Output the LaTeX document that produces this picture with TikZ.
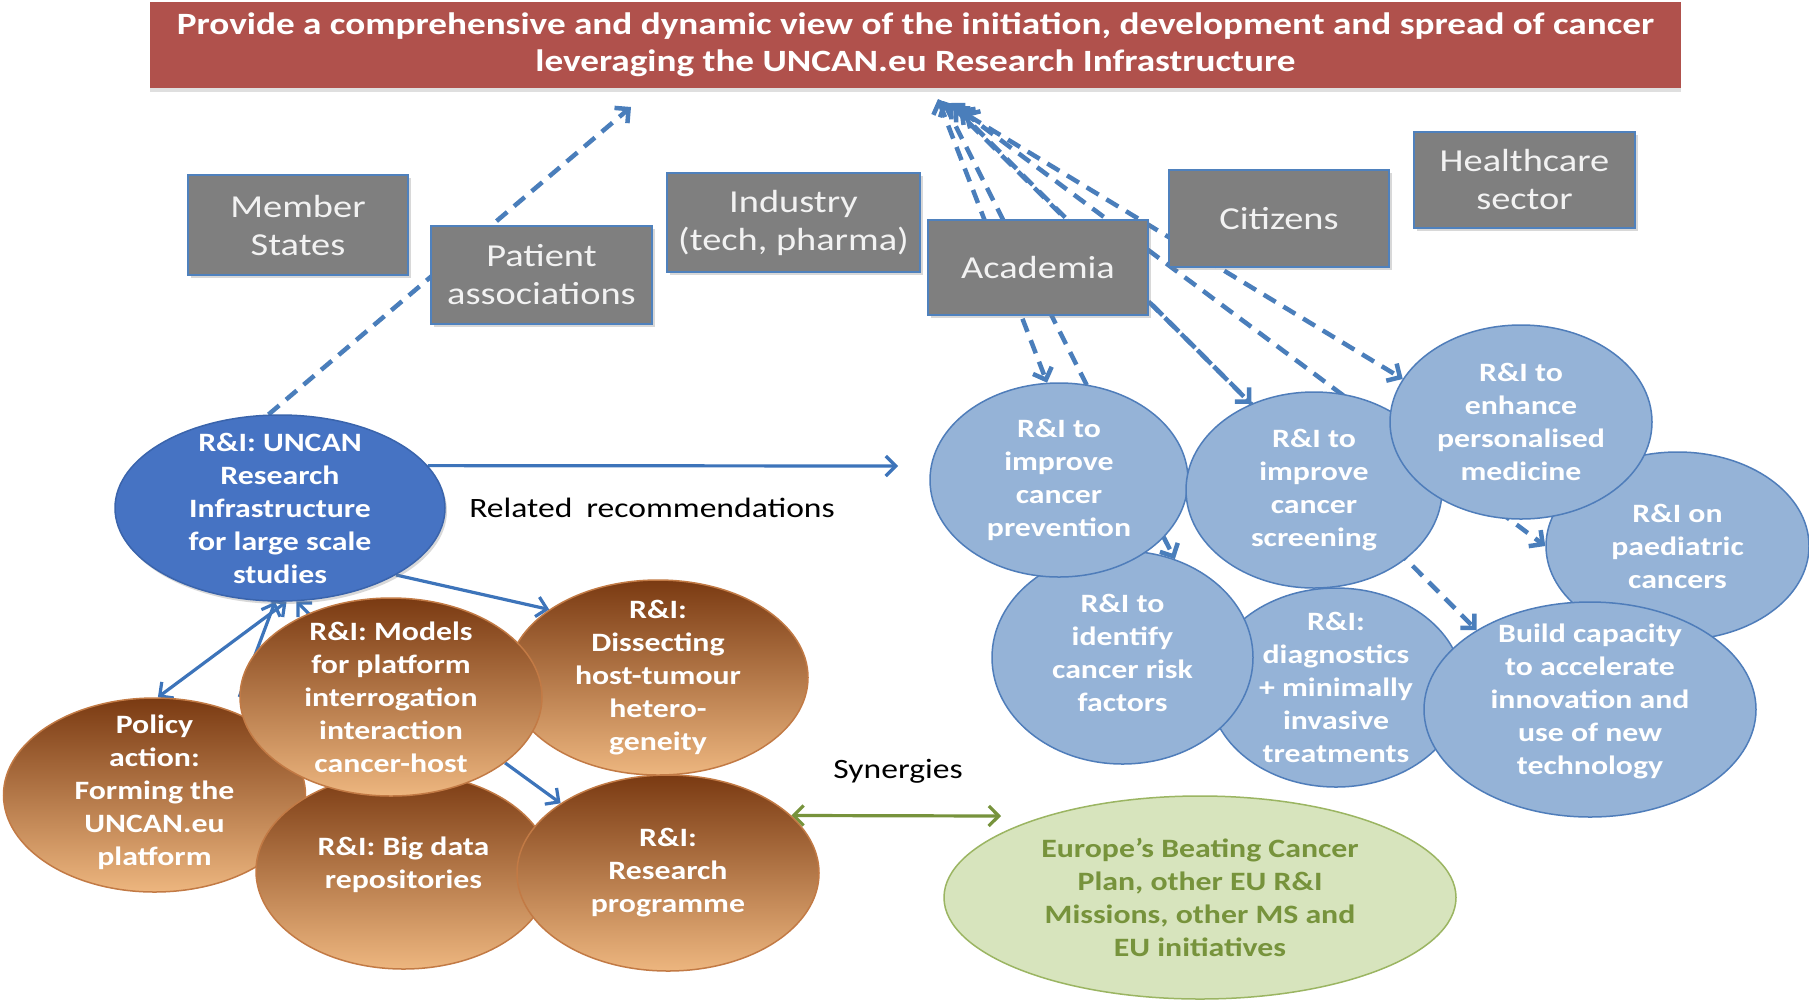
\documentclass[tikz,border=0pt]{standalone}
\usepackage{fontspec}
\setmainfont{Carlito}[FakeStretch=1.2]
\newfontfamily\titlefont{Carlito}[FakeStretch=1.2]
\usetikzlibrary{arrows.meta,shapes.geometric,shadows,backgrounds}
\definecolor{titlered}{HTML}{B0514C}
\definecolor{boxgray}{HTML}{7F7F7F}
\definecolor{boxedge}{HTML}{4F81BD}
\definecolor{boxtext}{HTML}{F2F2F2}
\definecolor{darkblue}{HTML}{4673C3}
\definecolor{darkblueedge}{HTML}{3A64AC}
\definecolor{lightblue}{HTML}{95B3D7}
\definecolor{lightblueedge}{HTML}{4F7DBA}
\definecolor{browntop}{HTML}{7A3A12}
\definecolor{brownbot}{HTML}{EDB67F}
\definecolor{brownedge}{HTML}{C27A45}
\definecolor{greenfill}{HTML}{D7E4BD}
\definecolor{greenedge}{HTML}{9BB562}
\definecolor{greentext}{HTML}{77933C}
\definecolor{arrblue}{HTML}{3D74BA}
\definecolor{dashblue}{HTML}{4A7EBB}
\definecolor{arrgreen}{HTML}{77933C}
\tikzset{barb/.tip={Straight Barb[length=10pt,width=20pt]}}
\begin{document}
\begin{tikzpicture}[x=1pt,y=-1pt,
  titlebox/.style={rectangle,fill=titlered,draw=none,text=white,inner sep=0pt,align=center,
    font=\titlefont\fontsize{31}{37}\selectfont\bfseries,drop shadow={shadow xshift=0pt,shadow yshift=-4pt,opacity=0.25}},
  graybox/.style={rectangle,fill=boxgray,draw=boxedge,line width=1.2pt,text=boxtext,
    font=\fontsize{32}{38}\selectfont,align=center,inner sep=0pt,
    drop shadow={shadow xshift=3pt,shadow yshift=-3pt,opacity=0.3}},
  balltext/.style={align=center,inner sep=0pt,font=\fontsize{26.5}{33}\selectfont\bfseries},
  bigball/.style={ellipse,fill=darkblue,draw=darkblueedge,line width=1.5pt,inner sep=0pt,
    drop shadow={shadow xshift=2pt,shadow yshift=-3pt,opacity=0.3}},
  brownball/.style={ellipse,top color=browntop,bottom color=brownbot,draw=brownedge,line width=1.5pt,inner sep=0pt},
  blueball/.style={ellipse,fill=lightblue,draw=lightblueedge,line width=1.5pt,inner sep=0pt},
  greenball/.style={ellipse,fill=greenfill,draw=greenedge,line width=1.5pt,inner sep=0pt},
  whitetext/.style={balltext,text=white},
  greentxt/.style={balltext,text=greentext},
  plainlabel/.style={text=black,font=\fontsize{28}{33}\selectfont,inner sep=0pt},
  solidarr/.style={-barb,draw=arrblue,line width=3.2pt},
  solidboth/.style={barb-barb,draw=arrblue,line width=3.2pt},
  greenboth/.style={barb-barb,draw=arrgreen,line width=3.2pt},
  dasharr/.style={-barb,draw=dashblue,line width=4.5pt,dash pattern=on 14pt off 9pt},
  dashboth/.style={barb-barb,draw=dashblue,line width=4.5pt,dash pattern=on 14pt off 9pt}
]
\useasboundingbox (0,0) rectangle (1809,1005);

% title
\node[titlebox,minimum width=1531pt,minimum height=86pt] (title) at (915.5,45)
  {Provide a comprehensive and dynamic view of the initiation, development and spread of cancer\\
   leveraging the UNCAN.eu Research Infrastructure};

% stakeholder boxes
\node[graybox,minimum width=220pt,minimum height=100pt] (member) at (298,225) {Member\\States};
\node[graybox,minimum width=221pt,minimum height=98pt] (patient) at (541.5,275) {Patient\\associations};
\node[graybox,minimum width=253pt,minimum height=99pt] (industry) at (793.5,222.5) {Industry\\(tech, pharma)};
\node[graybox,minimum width=220pt,minimum height=95pt] (academia) at (1038,267.5) {Academia};
\node[graybox,minimum width=220pt,minimum height=97pt] (citizens) at (1279,218.5) {Citizens};
\node[graybox,minimum width=221pt,minimum height=96pt] (health) at (1524.5,180) {Healthcare\\sector};

% UNCAN
\node[bigball,minimum width=330pt,minimum height=186pt,
  label={[whitetext]center:{R\&I: UNCAN\\Research\\Infrastructure\\for large scale\\studies}}] (uncan) at (280,508) {};

% brown circles
\node[brownball,minimum width=302pt,minimum height=194pt,
  label={[whitetext,yshift=3pt]center:{Policy\\action:\\Forming the\\UNCAN.eu\\platform}}] (policy) at (154.5,795) {};
\node[brownball,minimum width=295pt,minimum height=196pt,
  label={[whitetext,yshift=6pt]center:{R\&I: Big data\\repositories}}] (bigdata) at (403.5,871) {};
\node[brownball,minimum width=302pt,minimum height=196pt,
  label={[whitetext]center:{R\&I:\\Research\\programme}}] (research) at (668,873) {};
\node[brownball,minimum width=300pt,minimum height=195pt,
  label={[whitetext]center:{R\&I:\\Dissecting\\host-tumour\\hetero-\\geneity}}] (dissect) at (658,677.5) {};
\node[brownball,minimum width=302pt,minimum height=198pt,
  label={[whitetext]center:{R\&I: Models\\for platform\\interrogation\\interaction\\cancer-host}}] (models) at (391,697) {};

% blue circles
\node[blueball,minimum width=263pt,minimum height=188pt,
  label={[whitetext]center:{R\&I on\\paediatric\\cancers}}] (paed) at (1677.5,546) {};
\node[blueball,minimum width=254pt,minimum height=199pt,
  label={[whitetext]center:{R\&I:\\diagnostics\\+ minimally\\invasive\\treatments}}] (diag) at (1336,687.5) {};
\node[blueball,minimum width=261pt,minimum height=213pt,
  label={[whitetext,yshift=5pt]center:{R\&I to\\identify\\cancer risk\\factors}}] (risk) at (1122.5,657.5) {};
\node[blueball,minimum width=258pt,minimum height=194pt,
  label={[whitetext]center:{R\&I to\\improve\\cancer\\prevention}}] (prev) at (1059,480) {};
\node[blueball,minimum width=256pt,minimum height=196pt,
  label={[whitetext]center:{R\&I to\\improve\\cancer\\screening}}] (screen) at (1314,490) {};
\node[blueball,minimum width=262pt,minimum height=194pt,
  label={[whitetext]center:{R\&I to\\enhance\\personalised\\medicine}}] (perso) at (1521,422) {};
\node[blueball,minimum width=332pt,minimum height=215pt,
  label={[whitetext,yshift=8pt]center:{Build capacity\\to accelerate\\innovation and\\use of new\\technology}}] (build) at (1590,709.5) {};

% green
\node[greenball,minimum width=512pt,minimum height=203pt,
  label={[greentxt]center:{Europe’s Beating Cancer\\Plan, other EU R\&I\\Missions, other MS and\\EU initiatives}}] (green) at (1200,897.5) {};

% labels
\node[plainlabel] (rellabel) at (652,508) {Related\hspace{0.5em}recommendations};
\node[plainlabel] (synlabel) at (898,771) {Synergies};

% connector end points
\coordinate (relend) at (898,466);
\coordinate (paend) at (631,107);
\coordinate (synend) at (1001,816);
\coordinate (apexA) at (938,99);
\coordinate (apexB) at (943,101);
\coordinate (apexC) at (949,103);
\coordinate (apexD) at (954,106);
\coordinate (apexE) at (959,109);
\coordinate (apexF) at (964,113);

\begin{pgfonlayer}{background}
  \fill[white] (0,0) rectangle (1809,1005);
  % dashed
  \draw[dasharr] (uncan.97) -- (paend);
  \draw[dashboth] (apexA) -- (prev.97);
  \draw[dashboth] (apexB) -- (risk.62);
  \draw[dashboth] (apexC) -- (screen.126);
  \draw[dashboth] (apexD) -- (build.145);
  \draw[dashboth] (apexE) -- (paed.180);
  \draw[dashboth] (apexF) -- (perso.160);
  % solid
  \draw[solidarr] (uncan.16) -- (relend);
  \draw[solidarr] (uncan.-30) -- (dissect.148);
  \draw[solidboth] (uncan.-86) -- (policy.88);
  \draw[solidarr] (models.west) -- (uncan.-93);
  \draw[solidarr] (models.center) -- (uncan.-80);
  \draw[solidarr] (models.-30) -- (research.147);
  \draw[greenboth] (research.25) -- (synend);
\end{pgfonlayer}
\end{tikzpicture}
\end{document}
